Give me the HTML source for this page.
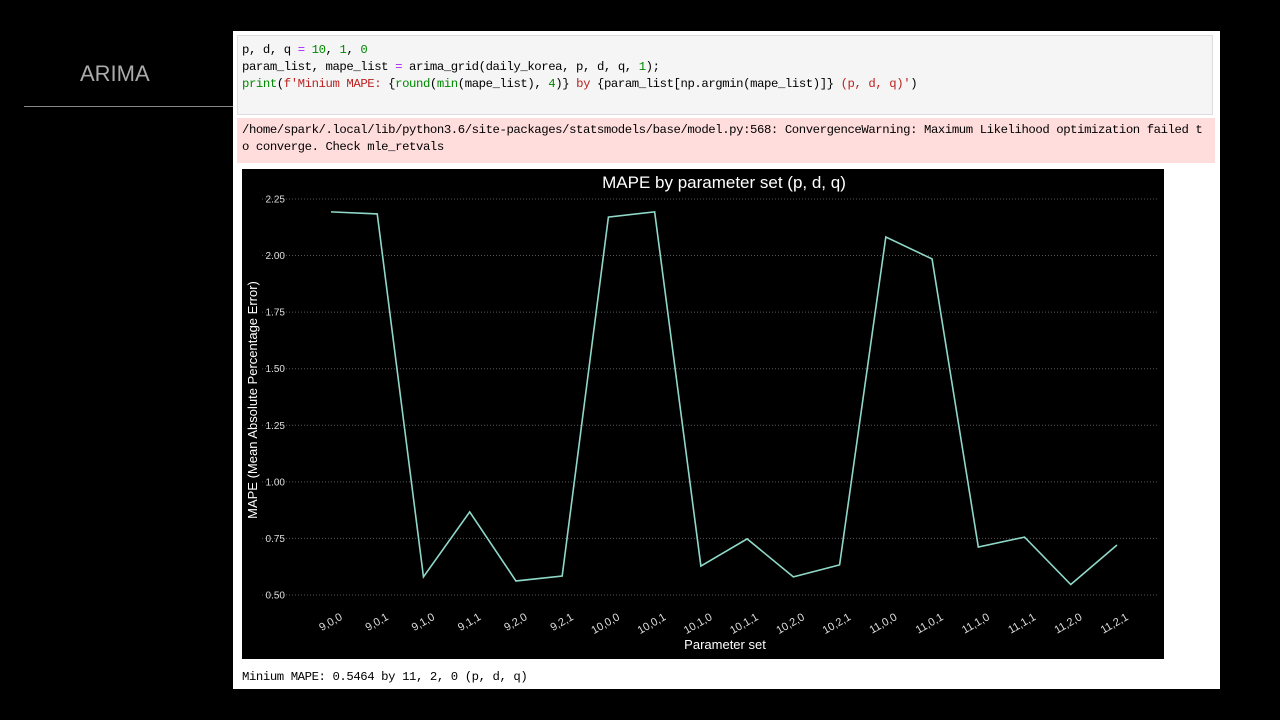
<!DOCTYPE html>
<html><head><meta charset="utf-8"><style>
body{margin:0;width:1280px;height:720px;background:#000;position:relative;overflow:hidden;font-family:"Liberation Sans",sans-serif}
.mono{font-family:"Liberation Mono","Noto Sans CJK KR",monospace;font-size:12.3px;letter-spacing:-0.42px}
</style></head><body>
<div style="position:absolute;left:80px;top:61px;color:#aaa;font-size:22px">ARIMA</div>
<div style="position:absolute;left:24px;top:106px;width:210px;height:1px;background:#888"></div>
<div style="position:absolute;left:233px;top:31px;width:987px;height:658px;background:#fff"></div>
<div class="mono" style="position:absolute;left:237px;top:35px;width:976px;height:80px;background:#f5f5f5;border:1px solid #ddd;box-sizing:border-box;padding:6px 4px;line-height:17px;color:#000;white-space:pre">p, d, q <span style="color:#a2f">=</span> <span style="color:#080">10</span>, <span style="color:#080">1</span>, <span style="color:#080">0</span>
param_list, mape_list <span style="color:#a2f">=</span> arima_grid(daily_korea, p, d, q, <span style="color:#080">1</span>);
<span style="color:#080">print</span>(<span style="color:#b22">f'Minium MAPE: </span>{<span style="color:#080">round</span>(<span style="color:#080">min</span>(mape_list), <span style="color:#080">4</span>)}<span style="color:#b22"> by </span>{param_list[np.argmin(mape_list)]}<span style="color:#b22"> (p, d, q)'</span>)</div>
<div class="mono" style="position:absolute;left:237px;top:118px;width:978px;height:45px;background:#fdd;padding:4px 5px;box-sizing:border-box;line-height:17px;color:#000;white-space:pre;overflow:hidden">/home/spark/.local/lib/python3.6/site-packages/statsmodels/base/model.py:568: ConvergenceWarning: Maximum Likelihood optimization failed t
o converge. Check mle_retvals</div>
<svg id="chart" style="position:absolute;left:242px;top:169px" width="922" height="490"></svg>
<div class="mono" style="position:absolute;left:242px;top:670px;color:#000">Minium MAPE: 0.5464 by 11, 2, 0 (p, d, q)</div>
<script>
const categories=["9,0,0","9,0,1","9,1,0","9,1,1","9,2,0","9,2,1","10,0,0","10,0,1","10,1,0","10,1,1","10,2,0","10,2,1","11,0,0","11,0,1","11,1,0","11,1,1","11,2,0","11,2,1"];
const mapeValues=[2.193,2.184,0.58,0.867,0.562,0.584,2.17,2.193,0.628,0.748,0.58,0.633,2.082,1.985,0.712,0.756,0.5464,0.721];
const yTicks=[0.5,0.75,1.0,1.25,1.5,1.75,2.0,2.25];
const NS="http://www.w3.org/2000/svg";
const svg=document.getElementById('chart');
const yS=v=>426-(v-0.5)*226.3;
const xS=i=>89+i*(786/(categories.length-1));
function mk(t,a){const e=document.createElementNS(NS,t);for(const k in a)e.setAttribute(k,a[k]);svg.appendChild(e);return e;}
const bg=mk('rect',{x:0,y:0,width:922,height:490,fill:'#000'});


const tt=mk('text',{x:482,y:19,fill:'#fff','font-size':17,'text-anchor':'middle'});tt.textContent='MAPE by parameter set (p, d, q)';


yTicks.forEach(v=>{
 const g=mk('line',{x1:20,x2:916,y1:yS(v),y2:yS(v),stroke:'#555','stroke-dasharray':'1,2','stroke-width':1});
 
 
 const t=mk('text',{x:43,y:yS(v)+3.5,fill:'#ddd','font-size':10,'text-anchor':'end'});t.textContent=v.toFixed(2);
 
 
});
categories.forEach((c,i)=>{
 const x=xS(i)+12,y=450;
 const t=mk('text',{x:x,y:y,fill:'#ddd','font-size':11,'text-anchor':'end',transform:`rotate(-30 ${x} ${y})`});t.textContent=c;
 
 
});
const p=mk('polyline',{points:mapeValues.map((v,i)=>xS(i)+','+yS(v)).join(' '),fill:'none',stroke:'#8fd8c8','stroke-width':1.6});


const xl=mk('text',{x:483,y:480,fill:'#fff','font-size':13,'text-anchor':'middle'});xl.textContent='Parameter set';


const yl=mk('text',{x:15,y:231,fill:'#fff','font-size':13,'text-anchor':'middle',transform:'rotate(-90 15 231)'});yl.textContent='MAPE (Mean Absolute Percentage Error)';


</script>
</body></html>
